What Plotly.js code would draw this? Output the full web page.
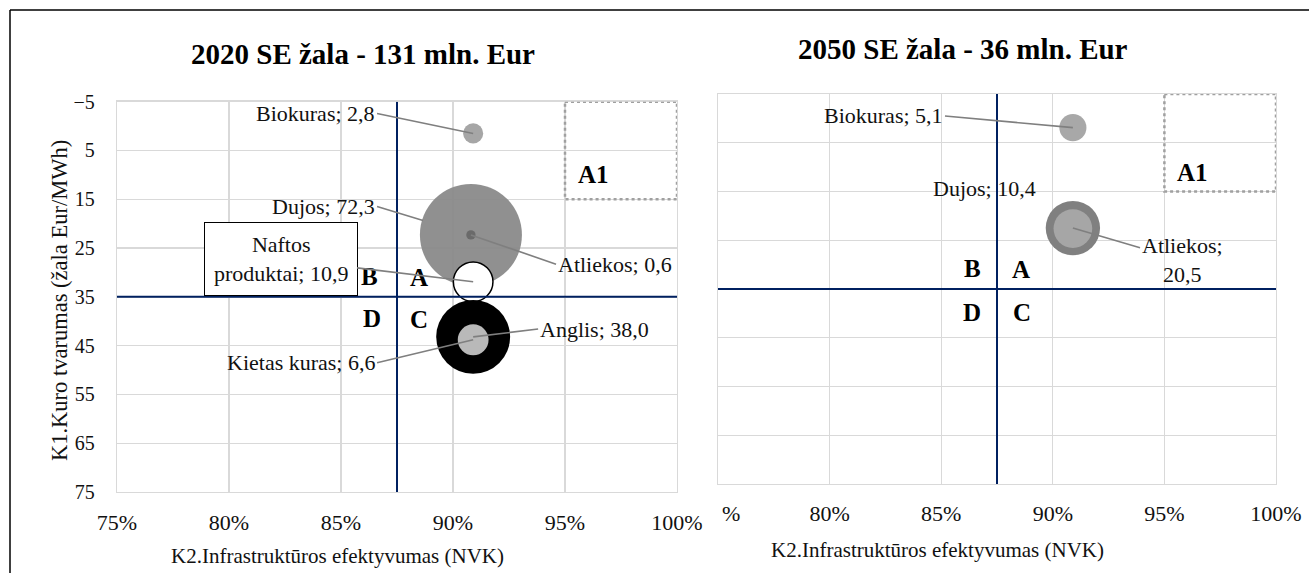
<!DOCTYPE html>
<html><head><meta charset="utf-8">
<script src="https://cdn.plot.ly/plotly-3.0.1.min.js"></script>
<style>html,body{margin:0;padding:0;background:#fff;overflow:hidden}#chart{width:1309px;height:573px}</style>
</head><body><div id="chart"></div>
<script>
// ---------- DATA ----------
// 2020: K2 infrastructure efficiency (share), K1 fuel sustainability (damage Eur/MWh), damage mln. Eur
const fuels2020  = ['Dujos', 'Atliekos', 'Naftos produktai', 'Anglis', 'Kietas kuras', 'Biokuras'];
const infra2020  = [0.908, 0.908, 0.909, 0.909, 0.909, 0.909];
const sust2020   = [22.3, 22.3, 31.9, 43.2, 43.8, 1.5];
const damage2020 = [72.3, 0.6, 10.9, 38.0, 6.6, 2.8];

// 2050
const fuels2050  = ['Atliekos', 'Dujos', 'Biokuras'];
const infra2050  = [0.909, 0.909, 0.909];
const sust2050   = [22.5, 22.6, 1.9];
const damage2050 = [20.5, 10.4, 5.1];

const xTickVals = [0.75, 0.80, 0.85, 0.90, 0.95, 1.00];
const xTickText = ['75%', '80%', '85%', '90%', '95%', '100%'];
const yTickVals = [-5, 5, 15, 25, 35, 45, 55, 65, 75];
const xRange = [0.75, 1.0];
const yRange = [75, -5];
const quadrantX = [0.875];
const quadrantY = [35];
const a1X = [0.95, 1.0];
const a1Y = [-5, 15];

const title2020 = '2020 SE žala - 131 mln. Eur';
const title2050 = '2050 SE žala - 36 mln. Eur';
const xTitle = 'K2.Infrastruktūros efektyvumas (NVK)';
const yTitle = 'K1.Kuro tvarumas (žala Eur/MWh)';

// ---------- STYLE ----------
const W = 1309, H = 573;
const SERIF = 'Liberation Serif, DejaVu Serif, serif';
const GRID = '#d9d9d9';
const NAVY = '#002060';
const LEADER = '#7f7f7f';
const TXT = '#111111';
const MAX_RADIUS_PX = 51;
const sizeref = Math.max(...damage2020, ...damage2050) / (2 * MAX_RADIUS_PX * MAX_RADIUS_PX);

const fill2020 = {'Dujos':'#8a8a8a','Atliekos':'#6a6a6a','Naftos produktai':'#ffffff','Anglis':'#000000','Kietas kuras':'#b9b9b9','Biokuras':'#a6a6a6'};
const fill2050 = {'Atliekos':'#808080','Dujos':'#a6a6a6','Biokuras':'#a8a8a8'};
const opac2020 = {'Dujos':0.95};
const outline = {'Naftos produktai':{color:'#000000', width:1.5}};

const fmt = v => v.toFixed(1).replace('.', ',');

function bubbleTrace(fuels, xs, ys, vals, fills, opac, xa, ya) {
  return {
    type:'scatter', mode:'markers', x:xs, y:ys, xaxis:xa, yaxis:ya,
    marker:{
      size:vals, sizemode:'area', sizeref:sizeref,
      opacity:fuels.map(f => (opac && opac[f]) || 1),
      color:fuels.map(f => fills[f]),
      line:{color:fuels.map(f => outline[f] ? outline[f].color : 'rgba(0,0,0,0)'),
            width:fuels.map(f => outline[f] ? outline[f].width : 0)}
    },
    hoverinfo:'skip', showlegend:false, cliponaxis:false
  };
}

// label placement (positions of the text boxes, not data)
const labelPos2020 = {
  'Biokuras':        {ax:0.8661, ay:-2.6, xanchor:'right'},
  'Dujos':           {ax:0.8661, ay:16.5, xanchor:'right', standoff:50},
  'Kietas kuras':    {ax:0.8661, ay:48.5, xanchor:'right'},
  'Naftos produktai':{ax:0.823,  ay:27.2, xanchor:'center', br:'name', box:true},
  'Atliekos':        {ax:0.946,  ay:28.3, xanchor:'left'},
  'Anglis':          {ax:0.938,  ay:41.6, xanchor:'left'}
};
const labelPos2050 = {
  'Biokuras': {ax:0.8517, ay:-0.5, xanchor:'right'},
  'Dujos':    {ax:0.8694, ay:14.4, xanchor:'center', noArrow:true},
  'Atliekos': {ax:0.9579, ay:29.05, xanchor:'center', br:'value'}
};

function labelAnnotations(fuels, xs, ys, vals, pos, xa, ya) {
  return fuels.map((f, i) => {
    const p = pos[f];
    let text = f + '; ' + fmt(vals[i]);
    if (p.br === 'name') text = f.replace(' ', '<br>') + '; ' + fmt(vals[i]);
    if (p.br === 'value') text = f + ';<br>' + fmt(vals[i]);
    const a = {text:text, xref:xa, yref:ya, font:{family:SERIF, size:22, color:TXT}, align:'center'};
    if (p.noArrow) {
      Object.assign(a, {x:p.ax, y:p.ay, showarrow:false, xanchor:p.xanchor, yanchor:'middle'});
    } else {
      Object.assign(a, {x:xs[i], y:ys[i], ax:p.ax, ay:p.ay, axref:xa, ayref:ya, showarrow:true,
        arrowhead:0, arrowwidth:1.6, arrowcolor:LEADER, xanchor:p.xanchor, yanchor:'middle',
        standoff:p.standoff || 0});
    }
    if (p.box) Object.assign(a, {bordercolor:'#000', borderwidth:1, borderpad:9, bgcolor:'#fff'});
    return a;
  });
}

const quadLetters = [
  {t:'B', x:0.8625, y:30.9, r:'1'}, {t:'A', x:0.8847, y:31.0, r:'1'},
  {t:'D', x:0.864,  y:39.5, r:'1'}, {t:'C', x:0.885,  y:39.7, r:'1'},
  {t:'A1', x:0.9625, y:10.0, r:'1'},
  {t:'B', x:0.8638, y:30.7, r:'2'}, {t:'A', x:0.8858, y:31.1, r:'2'},
  {t:'D', x:0.864,  y:39.9, r:'2'}, {t:'C', x:0.886,  y:39.9, r:'2'},
  {t:'A1', x:0.9624, y:11.0, r:'2'}
];

// first tick of the right chart is clipped in the original: only "%" is visible
const xTickText2 = xTickText.map((t, i) => i === 0 ? '' : t);

const annotations = [
  {text:'<b>'+title2020+'</b>', xref:'paper', yref:'paper', x:363/W, y:1-54.5/H, showarrow:false,
   xanchor:'center', yanchor:'middle', font:{family:SERIF, size:29, color:'#000'}},
  {text:'<b>'+title2050+'</b>', xref:'paper', yref:'paper', x:963/W, y:1-48.8/H, showarrow:false,
   xanchor:'center', yanchor:'middle', font:{family:SERIF, size:29, color:'#000'}},
  {text:xTitle, xref:'paper', yref:'paper', x:337/W, y:1-556/H, showarrow:false,
   xanchor:'center', yanchor:'middle', font:{family:SERIF, size:21, color:TXT}},
  {text:xTitle, xref:'paper', yref:'paper', x:937/W, y:1-550/H, showarrow:false,
   xanchor:'center', yanchor:'middle', font:{family:SERIF, size:21, color:TXT}},
  {text:yTitle, xref:'paper', yref:'paper', x:59/W, y:1-301/H, showarrow:false, textangle:-90,
   xanchor:'center', yanchor:'middle', font:{family:SERIF, size:22.5, color:TXT}},
  {text:xTickText[0].slice(-1), xref:'x2', yref:'paper', x:xTickVals[0], y:1-513/H, xshift:2,
   showarrow:false, xanchor:'left', yanchor:'middle', font:{family:SERIF, size:22, color:TXT}},
  ...quadLetters.map(q => ({text:'<b>'+q.t+'</b>', xref:q.r==='1'?'x':'x2', yref:q.r==='1'?'y':'y2',
    x:q.x, y:q.y, showarrow:false, xanchor:'center', yanchor:'middle',
    font:{family:SERIF, size:25, color:'#000'}})),
  ...labelAnnotations(fuels2020, infra2020, sust2020, damage2020, labelPos2020, 'x', 'y'),
  ...labelAnnotations(fuels2050, infra2050, sust2050, damage2050, labelPos2050, 'x2', 'y2')
];

function quadShapes(xa, ya) {
  return [
    {type:'line', xref:xa, yref:ya, x0:quadrantX[0], x1:quadrantX[0], y0:yRange[1], y1:yRange[0],
     line:{color:NAVY, width:2}, layer:'above'},
    {type:'line', xref:xa, yref:ya, x0:xRange[0], x1:xRange[1], y0:quadrantY[0], y1:quadrantY[0],
     line:{color:NAVY, width:2}, layer:'above'},
    {type:'rect', xref:xa, yref:ya, x0:a1X[0], x1:a1X[1], y0:a1Y[0], y1:a1Y[1],
     line:{color:'#a0a0a0', width:2.5, dash:'dot'}, fillcolor:'rgba(0,0,0,0)', layer:'above'}
  ];
}
const shapes = [
  ...quadShapes('x', 'y'), ...quadShapes('x2', 'y2'),
  {type:'line', xref:'paper', yref:'paper', x0:10/W, x1:1, y0:1-10/H, y1:1-10/H, line:{color:'#000', width:1.5}},
  {type:'line', xref:'paper', yref:'paper', x0:10/W, x1:10/W, y0:0, y1:1-10/H, line:{color:'#000', width:1.5}}
];

const axBase = {showgrid:true, gridcolor:GRID, gridwidth:1.3, showline:true, mirror:true,
  linecolor:GRID, linewidth:1.3, zeroline:false, ticks:'', fixedrange:true};

const layout = {
  width:W, height:H, margin:{l:0, r:0, t:0, b:0}, paper_bgcolor:'#fff', plot_bgcolor:'#fff',
  showlegend:false, hovermode:false,
  xaxis:Object.assign({}, axBase, {domain:[117/W, 677/W], range:xRange, tickvals:xTickVals, ticktext:xTickText,
    tickfont:{family:SERIF, size:22, color:TXT}, ticklabelstandoff:10, anchor:'y'}),
  yaxis:Object.assign({}, axBase, {domain:[1-492/H, 1-101.7/H], range:yRange, tickvals:yTickVals,
    tickfont:{family:SERIF, size:20, color:TXT}, ticklabelstandoff:17, anchor:'x'}),
  xaxis2:Object.assign({}, axBase, {domain:[718/W, 1276/W], range:xRange, tickvals:xTickVals, ticktext:xTickText2,
    tickfont:{family:SERIF, size:22, color:TXT}, ticklabelstandoff:9, anchor:'y2'}),
  yaxis2:Object.assign({}, axBase, {domain:[1-484/H, 1-94/H], range:yRange, tickvals:yTickVals,
    showticklabels:false, anchor:'x2'}),
  shapes:shapes, annotations:annotations
};

const data = [
  bubbleTrace(fuels2020, infra2020, sust2020, damage2020, fill2020, opac2020, 'x', 'y'),
  bubbleTrace(fuels2050, infra2050, sust2050, damage2050, fill2050, null, 'x2', 'y2')
];

Plotly.newPlot('chart', data, layout, {displayModeBar:false, staticPlot:true});
</script>
</body></html>
